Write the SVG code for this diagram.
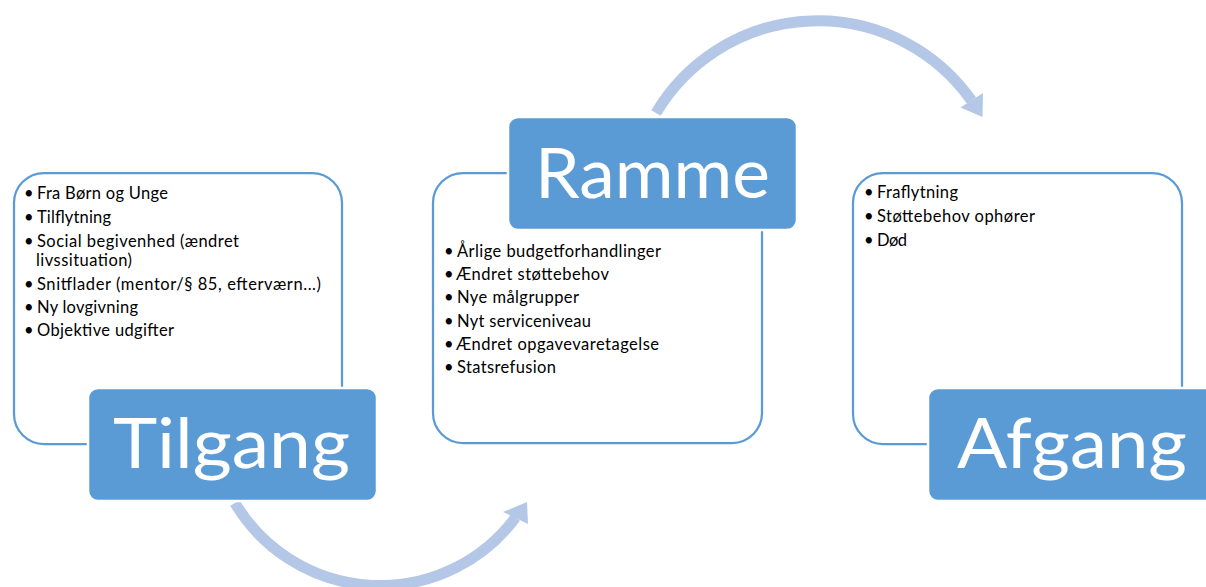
<svg xmlns="http://www.w3.org/2000/svg" width="1206" height="587" viewBox="0 0 1206 587">
<style>
.box{fill:#fff;stroke:#5b9bd5;stroke-width:2.25}
.lbl{fill:#5b9bd5;stroke:#fff;stroke-width:2.5}
.title{font-family:Lato,"Open Sans","Liberation Sans",sans-serif;font-size:70px;fill:#fff}
.item{font-family:Lato,"Open Sans","Liberation Sans",sans-serif;font-size:16.5px;fill:#000}
.arc{fill:none;stroke:#b4c7e7;stroke-width:11}
.head{fill:#b4c7e7}
</style>
<rect width="1206" height="587" fill="#fff"/>
<g id="connectors">
<path class="arc" d="M235,503 A168.7,168.7 0 0 0 515.5,517.5"/>
<polygon class="head" points="503,512 527,502 528,524"/>
<path class="arc" d="M656,113 A188,188 0 0 1 971.5,100.5"/>
<polygon class="head" points="960.5,107.5 983,93 982.5,117"/>
</g>
<g id="tilgang">
<rect class="box" x="14" y="173" width="328" height="271" rx="30"/>
<g class="item">
<text x="24" y="199">•</text><text x="37" y="199" textLength="131">Fra Børn og Unge</text>
<text x="24" y="223">•</text><text x="37" y="223" textLength="74">Tilflytning</text>
<text x="24" y="247">•</text><text x="37" y="247" textLength="202">Social begivenhed (ændret</text>
<text x="36" y="266" textLength="96">livssituation)</text>
<text x="24" y="290">•</text><text x="37" y="290" textLength="284">Snitflader (mentor/§ 85, efterværn...)</text>
<text x="24" y="313">•</text><text x="37" y="313" textLength="101">Ny lovgivning</text>
<text x="24" y="336">•</text><text x="37" y="336" textLength="137">Objektive udgifter</text>
</g>
<rect class="lbl" x="88" y="388" width="289" height="113" rx="10"/>
<text class="title" x="113" y="468" textLength="237" lengthAdjust="spacingAndGlyphs">Tilgang</text>
</g>
<g id="ramme">
<rect class="box" x="433" y="173" width="329" height="270" rx="30"/>
<g class="item">
<text x="444" y="257">•</text><text x="457" y="257" textLength="204">Årlige budgetforhandlinger</text>
<text x="444" y="280">•</text><text x="456" y="280" textLength="153">Ændret støttebehov</text>
<text x="444" y="303">•</text><text x="457" y="303" textLength="122">Nye målgrupper</text>
<text x="444" y="327">•</text><text x="457" y="327" textLength="134">Nyt serviceniveau</text>
<text x="444" y="350">•</text><text x="456" y="350" textLength="203">Ændret opgavevaretagelse</text>
<text x="444" y="373">•</text><text x="457" y="373" textLength="99">Statsrefusion</text>
</g>
<rect class="lbl" x="508" y="117" width="289" height="113" rx="10"/>
<text class="title" x="535" y="198" textLength="235" lengthAdjust="spacingAndGlyphs">Ramme</text>
</g>
<g id="afgang">
<rect class="box" x="853" y="173" width="329" height="271" rx="30"/>
<g class="item">
<text x="864" y="198">•</text><text x="877" y="198" textLength="81">Fraflytning</text>
<text x="864" y="222">•</text><text x="877" y="222" textLength="158">Støttebehov ophører</text>
<text x="864" y="246">•</text><text x="877" y="246" textLength="30">Død</text>
</g>
<rect class="lbl" x="928" y="388" width="289" height="113" rx="10"/>
<text class="title" x="957" y="468" textLength="230" lengthAdjust="spacingAndGlyphs">Afgang</text>
</g>
</svg>
